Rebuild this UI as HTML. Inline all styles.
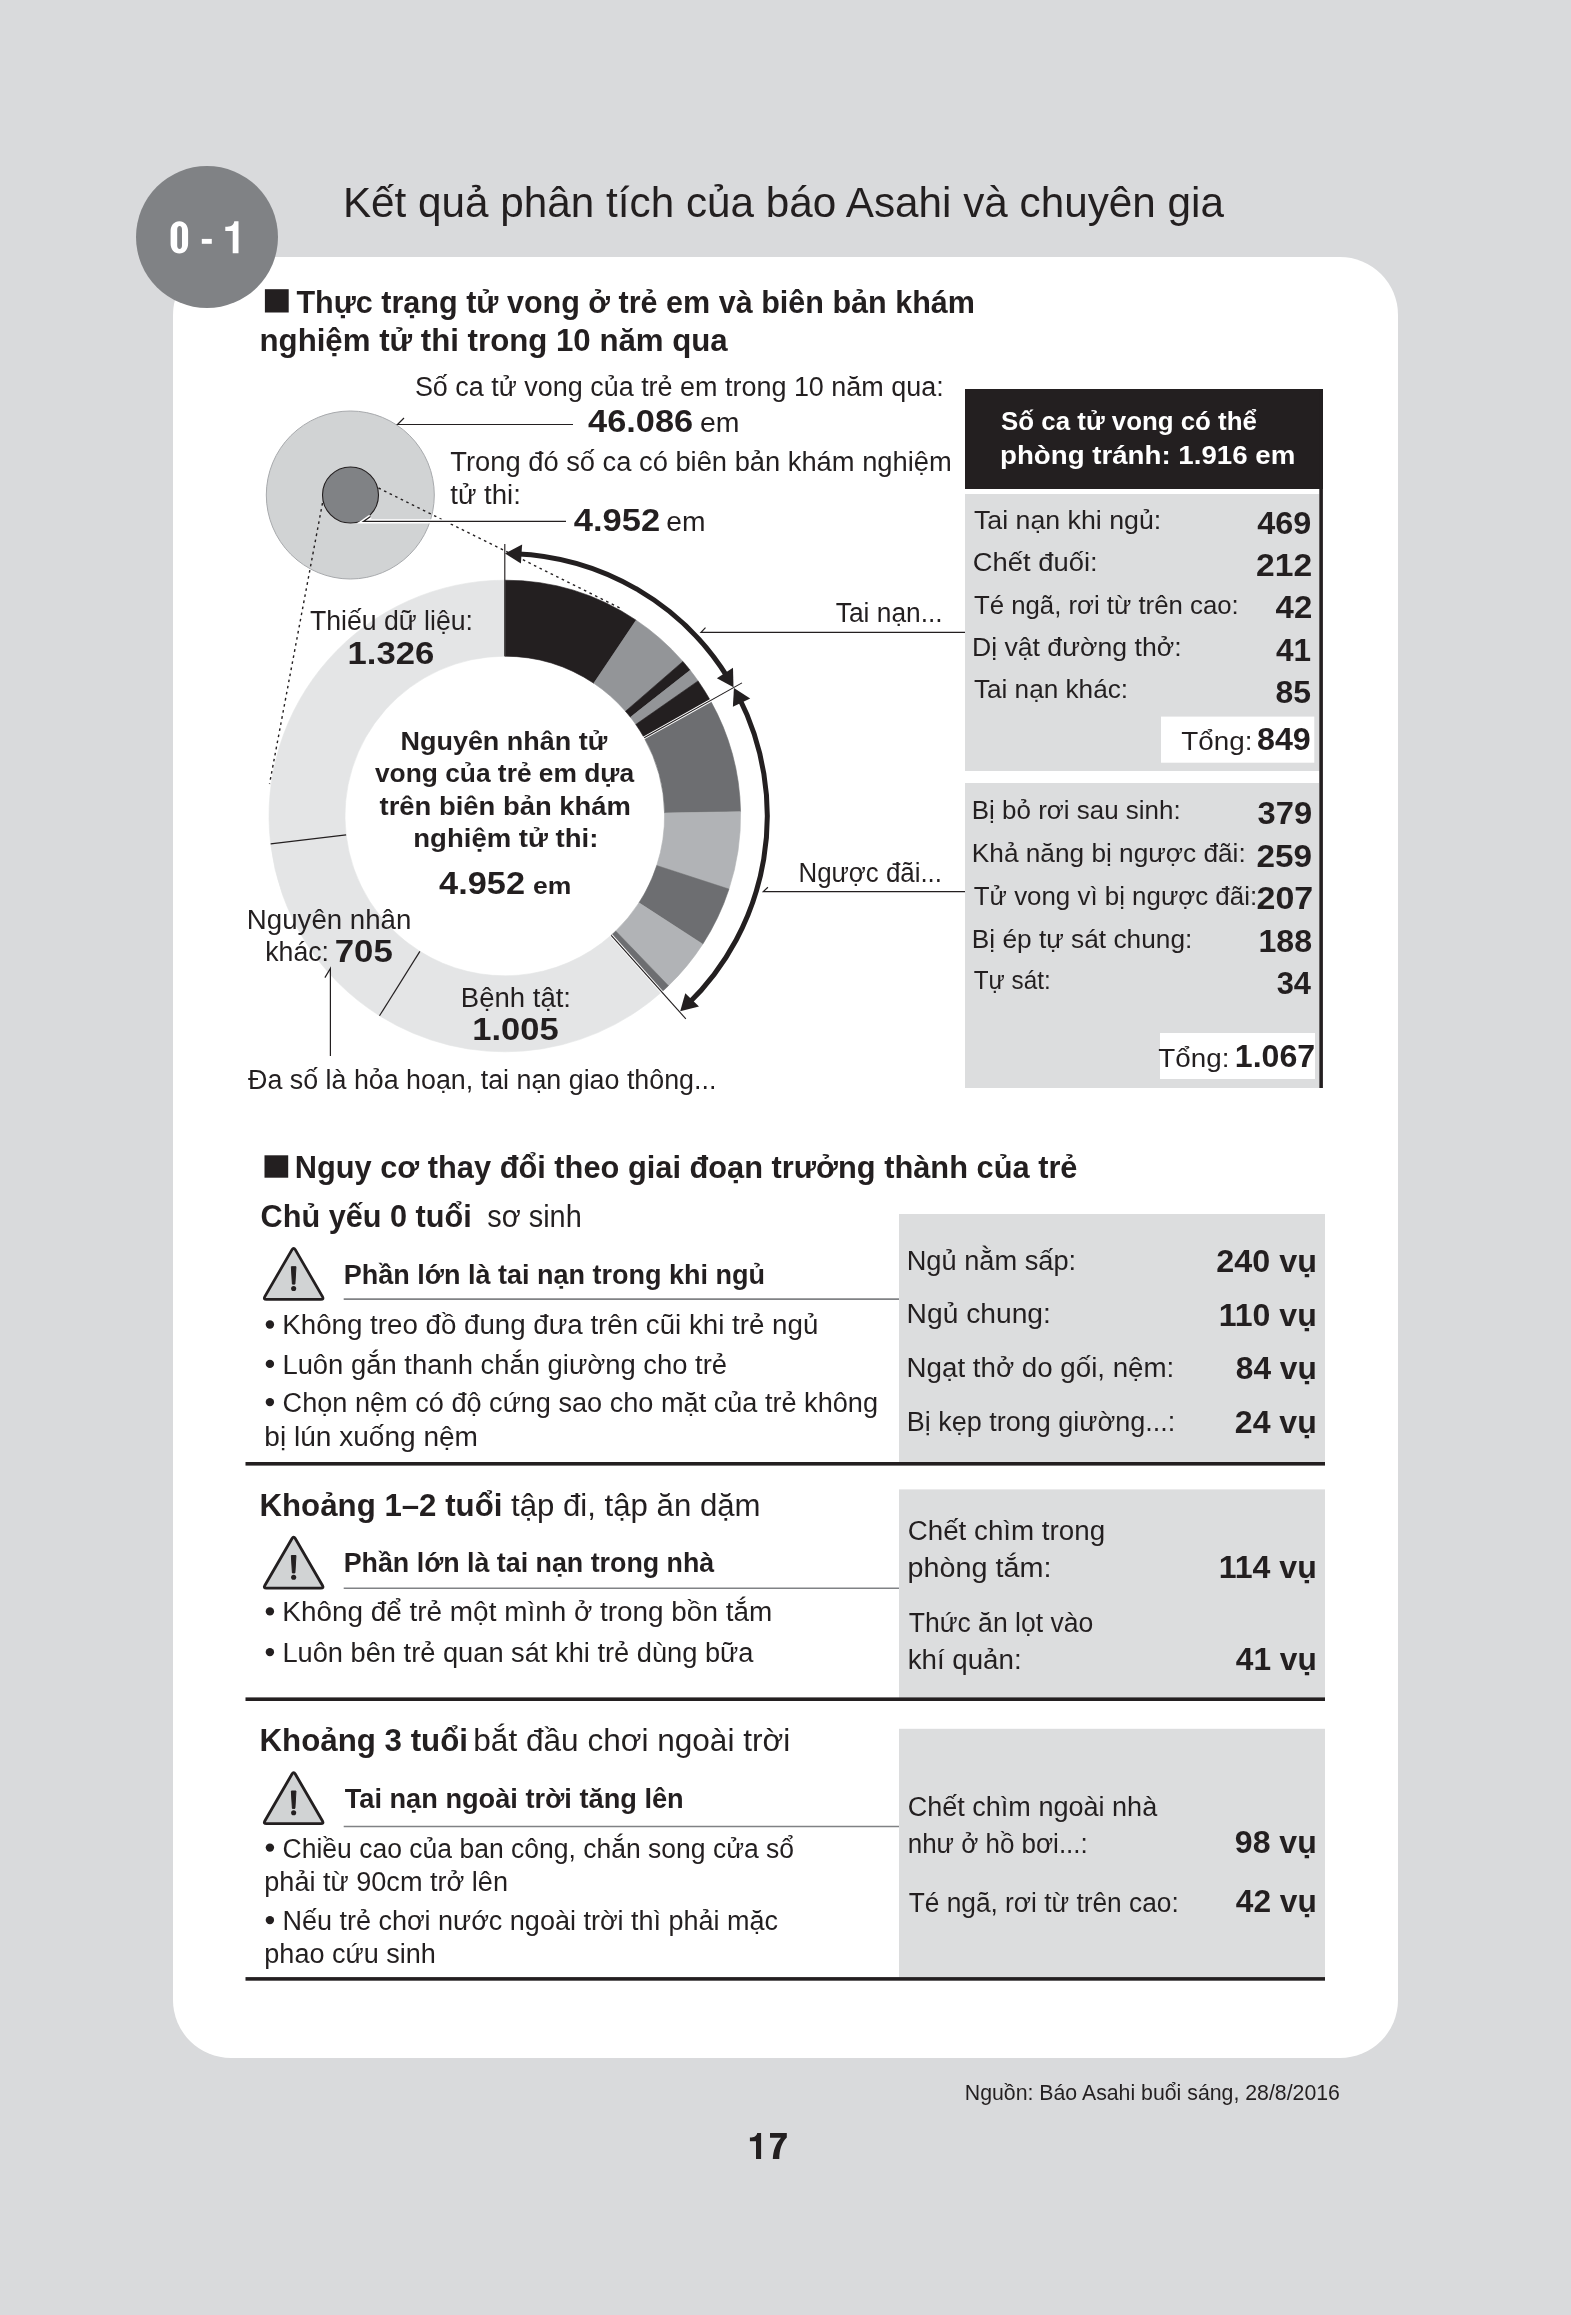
<!DOCTYPE html>
<html lang="vi"><head><meta charset="utf-8"><title>Kết quả phân tích của báo Asahi và chuyên gia</title>
<style>
html,body{margin:0;padding:0;background:#d9dadc;}
body{width:1571px;height:2315px;overflow:hidden;position:relative;font-family:"Liberation Sans",sans-serif;}
.card{position:absolute;left:172.7px;top:256.5px;width:1225.3px;height:1801.7px;background:#fff;border-radius:58px;}
.badge{position:absolute;left:135.6px;top:166.4px;width:142px;height:142px;border-radius:50%;background:#808285;}
svg{position:absolute;left:0;top:0;will-change:transform;}
svg text{font-family:"Liberation Sans",sans-serif;}
</style></head>
<body>
<div class="card"></div>
<div class="badge"></div>
<svg width="1571" height="2315" viewBox="0 0 1571 2315">

<rect x="965" y="389" width="358" height="100" fill="#231f20"/>
<rect x="965" y="494" width="354.5" height="277" fill="#dcddde"/>
<rect x="1161" y="716.6" width="153.3" height="46.1" fill="#ffffff"/>
<rect x="965" y="783" width="354" height="305" fill="#dcddde"/>
<rect x="1160" y="1033" width="155" height="46" fill="#ffffff"/>
<rect x="1319.3" y="389" width="3.6" height="699" fill="#231f20"/>
<rect x="264.9" y="289.2" width="23.8" height="23.3" fill="#231f20"/>
<rect x="264.5" y="1155.3" width="23.7" height="22.4" fill="#231f20"/>
<rect x="899" y="1214" width="426" height="248" fill="#dcddde"/>
<rect x="899" y="1489.4" width="426" height="208.5" fill="#dcddde"/>
<rect x="899" y="1728.8" width="426" height="248.5" fill="#dcddde"/>
<rect x="245.5" y="1462" width="1079.5" height="3.6" fill="#231f20"/>
<rect x="245.5" y="1697.4" width="1079.5" height="3.6" fill="#231f20"/>
<rect x="245.5" y="1977.1" width="1079.5" height="3.6" fill="#231f20"/>
<line x1="343.7" y1="1299.1" x2="899" y2="1299.1" stroke="#808285" stroke-width="1.6"/>
<line x1="343.7" y1="1588.2" x2="899" y2="1588.2" stroke="#808285" stroke-width="1.6"/>
<line x1="343.7" y1="1826.5" x2="899" y2="1826.5" stroke="#808285" stroke-width="1.6"/>
<path d="M295.26,1249.67 L322.49,1296.63 Q324.10,1299.40 320.90,1299.40 L266.40,1299.40 Q263.20,1299.40 264.81,1296.63 L292.04,1249.67 Q293.65,1246.90 295.26,1249.67 Z" fill="#d1d3d4" stroke="#231f20" stroke-width="2.8" stroke-linejoin="round"/><path d="M291.35,1266.70 L295.95,1266.70 L294.90,1284.10 L292.40,1284.10 Z" fill="#231f20" stroke="#231f20" stroke-width="1" stroke-linejoin="round"/><circle cx="293.65" cy="1288.50" r="2.55" fill="#231f20"/>
<path d="M295.26,1538.47 L322.49,1585.43 Q324.10,1588.20 320.90,1588.20 L266.40,1588.20 Q263.20,1588.20 264.81,1585.43 L292.04,1538.47 Q293.65,1535.70 295.26,1538.47 Z" fill="#d1d3d4" stroke="#231f20" stroke-width="2.8" stroke-linejoin="round"/><path d="M291.35,1555.50 L295.95,1555.50 L294.90,1572.90 L292.40,1572.90 Z" fill="#231f20" stroke="#231f20" stroke-width="1" stroke-linejoin="round"/><circle cx="293.65" cy="1577.30" r="2.55" fill="#231f20"/>
<path d="M295.26,1773.97 L322.49,1820.93 Q324.10,1823.70 320.90,1823.70 L266.40,1823.70 Q263.20,1823.70 264.81,1820.93 L292.04,1773.97 Q293.65,1771.20 295.26,1773.97 Z" fill="#d1d3d4" stroke="#231f20" stroke-width="2.8" stroke-linejoin="round"/><path d="M291.35,1791.00 L295.95,1791.00 L294.90,1808.40 L292.40,1808.40 Z" fill="#231f20" stroke="#231f20" stroke-width="1" stroke-linejoin="round"/><circle cx="293.65" cy="1812.80" r="2.55" fill="#231f20"/>

<path d="M504.80,580.20 A235.8,235.8 0 0 1 636.15,620.17 L593.81,683.29 A159.8,159.8 0 0 0 504.80,656.20 Z" fill="#231f20" stroke="#231f20" stroke-width="0.6"/>
<path d="M636.15,620.17 A235.8,235.8 0 0 1 682.90,661.46 L625.49,711.27 A159.8,159.8 0 0 0 593.81,683.29 Z" fill="#939598" stroke="#939598" stroke-width="0.6"/>
<path d="M682.90,661.46 A235.8,235.8 0 0 1 690.18,670.28 L630.43,717.24 A159.8,159.8 0 0 0 625.49,711.27 Z" fill="#231f20" stroke="#231f20" stroke-width="0.6"/>
<path d="M690.18,670.28 A235.8,235.8 0 0 1 698.07,680.92 L635.78,724.46 A159.8,159.8 0 0 0 630.43,717.24 Z" fill="#939598" stroke="#939598" stroke-width="0.6"/>
<path d="M698.07,680.92 A235.8,235.8 0 0 1 710.43,700.60 L644.16,737.80 A159.8,159.8 0 0 0 635.78,724.46 Z" fill="#231f20" stroke="#231f20" stroke-width="0.6"/>
<path d="M710.43,700.60 A235.8,235.8 0 0 1 740.56,811.68 L664.57,813.07 A159.8,159.8 0 0 0 644.16,737.80 Z" fill="#6d6e71" stroke="#6d6e71" stroke-width="0.6"/>
<path d="M740.56,811.68 A235.8,235.8 0 0 1 728.98,889.10 L656.73,865.54 A159.8,159.8 0 0 0 664.57,813.07 Z" fill="#b1b3b6" stroke="#b1b3b6" stroke-width="0.6"/>
<path d="M728.98,889.10 A235.8,235.8 0 0 1 702.74,944.15 L638.94,902.85 A159.8,159.8 0 0 0 656.73,865.54 Z" fill="#6d6e71" stroke="#6d6e71" stroke-width="0.6"/>
<path d="M702.74,944.15 A235.8,235.8 0 0 1 668.48,985.73 L615.73,931.03 A159.8,159.8 0 0 0 638.94,902.85 Z" fill="#b1b3b6" stroke="#b1b3b6" stroke-width="0.6"/>
<path d="M668.48,985.73 A235.8,235.8 0 0 1 661.75,991.98 L611.17,935.26 A159.8,159.8 0 0 0 615.73,931.03 Z" fill="#6d6e71" stroke="#6d6e71" stroke-width="0.6"/>
<path d="M661.75,991.98 A235.8,235.8 0 0 1 379.50,1015.75 L419.88,951.37 A159.8,159.8 0 0 0 611.17,935.26 Z" fill="#e4e5e6" stroke="#e4e5e6" stroke-width="0.6"/>
<path d="M379.50,1015.75 A235.8,235.8 0 0 1 270.66,843.92 L346.12,834.92 A159.8,159.8 0 0 0 419.88,951.37 Z" fill="#e4e5e6" stroke="#e4e5e6" stroke-width="0.6"/>
<path d="M270.66,843.92 A235.8,235.8 0 0 1 504.80,580.20 L504.80,656.20 A159.8,159.8 0 0 0 346.12,834.92 Z" fill="#e4e5e6" stroke="#e4e5e6" stroke-width="0.6"/>
<line x1="643.28" y1="738.29" x2="711.31" y2="700.11" stroke="#ffffff" stroke-width="3.0"/>
<line x1="644.16" y1="737.80" x2="742.00" y2="682.89" stroke="#231f20" stroke-width="1.1"/>
<line x1="504.80" y1="656.20" x2="504.80" y2="544.00" stroke="#231f20" stroke-width="1.15"/>
<line x1="611.17" y1="935.26" x2="662.42" y2="992.72" stroke="#ffffff" stroke-width="3"/>
<line x1="611.17" y1="935.26" x2="685.85" y2="1018.99" stroke="#231f20" stroke-width="1.1"/>
<line x1="419.88" y1="951.37" x2="379.50" y2="1015.75" stroke="#231f20" stroke-width="1.2"/>
<line x1="346.12" y1="834.92" x2="270.66" y2="843.92" stroke="#231f20" stroke-width="1.2"/>
<path d="M514.65,553.69 A262.5,262.5 0 0 1 728.61,678.84" fill="none" stroke="#231f20" stroke-width="5"/>
<path d="M505.03,553.50 L522.13,544.45 L520.91,563.61 Z" fill="#231f20"/>
<path d="M733.49,687.14 L733.00,667.80 L716.90,678.26 Z" fill="#231f20"/>
<path d="M738.48,696.43 A262.5,262.5 0 0 1 687.25,1004.73" fill="none" stroke="#231f20" stroke-width="5"/>
<path d="M733.94,687.94 L750.19,698.44 L732.88,706.73 Z" fill="#231f20"/>
<path d="M680.21,1011.29 L698.98,1006.61 L685.28,993.16 Z" fill="#231f20"/>

<!-- big circles -->
<circle cx="350.3" cy="495" r="84" fill="#d1d3d4" stroke="#a7a9ac" stroke-width="1"/>
<circle cx="350.5" cy="495" r="28" fill="#808285" stroke="#231f20" stroke-width="1.1"/>
<line x1="378.5" y1="488" x2="622" y2="609" stroke="#231f20" stroke-width="1.4" stroke-dasharray="2.6,3.6"/>
<line x1="322.5" y1="503" x2="269.5" y2="784" stroke="#231f20" stroke-width="1.4" stroke-dasharray="2.6,3.6"/>
<!-- leaders -->
<path d="M404,418 L397.5,424.5 L573,424.5" fill="none" stroke="#231f20" stroke-width="1.2"/>
<path d="M370.5,516.6 L363.5,521.4 L566,521.4" fill="none" stroke="#ffffff" stroke-width="4.2"/>
<path d="M370.5,516.6 L363.5,521.4 L566,521.4" fill="none" stroke="#231f20" stroke-width="1.2"/>
<path d="M705.5,627.7 L701,632.4 L965,632.4" fill="none" stroke="#231f20" stroke-width="1.2"/>
<path d="M767.9,887.3 L763.3,891.6 L965,891.6" fill="none" stroke="#231f20" stroke-width="1.2"/>
<path d="M324.9,977.6 L330.4,968.4 L330.4,1056" fill="none" stroke="#231f20" stroke-width="1.2"/>

<text x="342.9" y="216.5" font-size="42" fill="#231f20" textLength="881.1" lengthAdjust="spacingAndGlyphs">Kết quả phân tích của báo Asahi và chuyên gia</text>
<text x="296.4" y="312.5" font-size="32" font-weight="bold" fill="#231f20" textLength="678.6" lengthAdjust="spacingAndGlyphs">Thực trạng tử vong ở trẻ em và biên bản khám</text>
<text x="259.5" y="350.6" font-size="32" font-weight="bold" fill="#231f20" textLength="468.2" lengthAdjust="spacingAndGlyphs">nghiệm tử thi trong 10 năm qua</text>
<text x="414.9" y="396.3" font-size="27" fill="#231f20" textLength="528.8" lengthAdjust="spacingAndGlyphs">Số ca tử vong của trẻ em trong 10 năm qua:</text>
<text x="588.1" y="431.6" font-size="31" font-weight="bold" fill="#231f20" textLength="105.0" lengthAdjust="spacingAndGlyphs">46.086</text>
<text x="699.9" y="431.6" font-size="27" fill="#231f20" textLength="39.5" lengthAdjust="spacingAndGlyphs">em</text>
<text x="450.3" y="470.6" font-size="27" fill="#231f20" textLength="501.4" lengthAdjust="spacingAndGlyphs">Trong đó số ca có biên bản khám nghiệm</text>
<text x="450.3" y="504.2" font-size="27" fill="#231f20" textLength="70.6" lengthAdjust="spacingAndGlyphs">tử thi:</text>
<text x="573.8" y="530.9" font-size="31" font-weight="bold" fill="#231f20" textLength="86.4" lengthAdjust="spacingAndGlyphs">4.952</text>
<text x="666.3" y="530.9" font-size="27" fill="#231f20" textLength="39.2" lengthAdjust="spacingAndGlyphs">em</text>
<text x="310.0" y="629.5" font-size="27" fill="#231f20" textLength="163.0" lengthAdjust="spacingAndGlyphs">Thiếu dữ liệu:</text>
<text x="347.6" y="663.7" font-size="32" font-weight="bold" fill="#231f20" textLength="86.7" lengthAdjust="spacingAndGlyphs">1.326</text>
<text x="835.8" y="622.1" font-size="27" fill="#231f20" textLength="106.8" lengthAdjust="spacingAndGlyphs">Tai nạn...</text>
<text x="400.5" y="749.6" font-size="25" font-weight="bold" fill="#231f20" textLength="206.7" lengthAdjust="spacingAndGlyphs">Nguyên nhân tử</text>
<text x="374.9" y="782.1" font-size="25" font-weight="bold" fill="#231f20" textLength="259.2" lengthAdjust="spacingAndGlyphs">vong của trẻ em dựa</text>
<text x="379.5" y="814.5" font-size="25" font-weight="bold" fill="#231f20" textLength="251.4" lengthAdjust="spacingAndGlyphs">trên biên bản khám</text>
<text x="413.3" y="847.0" font-size="25" font-weight="bold" fill="#231f20" textLength="185.1" lengthAdjust="spacingAndGlyphs">nghiệm tử thi:</text>
<text x="439.1" y="894.4" font-size="32" font-weight="bold" fill="#231f20" textLength="85.9" lengthAdjust="spacingAndGlyphs">4.952</text>
<text x="533.1" y="894.4" font-size="24" font-weight="bold" fill="#231f20" textLength="38.3" lengthAdjust="spacingAndGlyphs">em</text>
<text x="798.5" y="881.5" font-size="27" fill="#231f20" textLength="143.5" lengthAdjust="spacingAndGlyphs">Ngược đãi...</text>
<text x="246.8" y="928.7" font-size="27" fill="#231f20" textLength="164.6" lengthAdjust="spacingAndGlyphs">Nguyên nhân</text>
<text x="265.3" y="961.3" font-size="27" fill="#231f20" textLength="63.7" lengthAdjust="spacingAndGlyphs">khác:</text>
<text x="334.7" y="961.9" font-size="32" font-weight="bold" fill="#231f20" textLength="58.1" lengthAdjust="spacingAndGlyphs">705</text>
<text x="460.8" y="1006.6" font-size="27" fill="#231f20" textLength="110.2" lengthAdjust="spacingAndGlyphs">Bệnh tật:</text>
<text x="472.3" y="1039.9" font-size="32" font-weight="bold" fill="#231f20" textLength="86.4" lengthAdjust="spacingAndGlyphs">1.005</text>
<text x="248.0" y="1089.4" font-size="27" fill="#231f20" textLength="468.4" lengthAdjust="spacingAndGlyphs">Đa số là hỏa hoạn, tai nạn giao thông...</text>
<text x="1001.1" y="429.6" font-size="25" font-weight="bold" fill="#ffffff" textLength="255.8" lengthAdjust="spacingAndGlyphs">Số ca tử vong có thể</text>
<text x="1000.0" y="464.0" font-size="25" font-weight="bold" fill="#ffffff" textLength="295.3" lengthAdjust="spacingAndGlyphs">phòng tránh: 1.916 em</text>
<text x="973.9" y="528.9" font-size="26" fill="#231f20" textLength="187.4" lengthAdjust="spacingAndGlyphs">Tai nạn khi ngủ:</text>
<text x="1257.2" y="533.5" font-size="31" font-weight="bold" fill="#231f20" textLength="54.0" lengthAdjust="spacingAndGlyphs">469</text>
<text x="972.8" y="571.3" font-size="26" fill="#231f20" textLength="124.8" lengthAdjust="spacingAndGlyphs">Chết đuối:</text>
<text x="1256.1" y="575.9" font-size="31" font-weight="bold" fill="#231f20" textLength="56.1" lengthAdjust="spacingAndGlyphs">212</text>
<text x="973.9" y="613.7" font-size="26" fill="#231f20" textLength="264.9" lengthAdjust="spacingAndGlyphs">Té ngã, rơi từ trên cao:</text>
<text x="1275.6" y="618.3" font-size="31" font-weight="bold" fill="#231f20" textLength="36.6" lengthAdjust="spacingAndGlyphs">42</text>
<text x="971.9" y="656.3" font-size="26" fill="#231f20" textLength="209.7" lengthAdjust="spacingAndGlyphs">Dị vật đường thở:</text>
<text x="1276.0" y="660.9" font-size="31" font-weight="bold" fill="#231f20" textLength="35.1" lengthAdjust="spacingAndGlyphs">41</text>
<text x="973.9" y="698.3" font-size="26" fill="#231f20" textLength="154.2" lengthAdjust="spacingAndGlyphs">Tai nạn khác:</text>
<text x="1275.6" y="702.9" font-size="31" font-weight="bold" fill="#231f20" textLength="35.5" lengthAdjust="spacingAndGlyphs">85</text>
<text x="1181.3" y="749.8" font-size="26" fill="#231f20" textLength="71.2" lengthAdjust="spacingAndGlyphs">Tổng:</text>
<text x="1257.0" y="749.8" font-size="31" font-weight="bold" fill="#231f20" textLength="53.8" lengthAdjust="spacingAndGlyphs">849</text>
<text x="971.8" y="819.2" font-size="26" fill="#231f20" textLength="208.9" lengthAdjust="spacingAndGlyphs">Bị bỏ rơi sau sinh:</text>
<text x="1257.6" y="823.5" font-size="31" font-weight="bold" fill="#231f20" textLength="54.5" lengthAdjust="spacingAndGlyphs">379</text>
<text x="971.8" y="862.4" font-size="26" fill="#231f20" textLength="273.9" lengthAdjust="spacingAndGlyphs">Khả năng bị ngược đãi:</text>
<text x="1256.5" y="866.7" font-size="31" font-weight="bold" fill="#231f20" textLength="55.5" lengthAdjust="spacingAndGlyphs">259</text>
<text x="973.8" y="905.1" font-size="26" fill="#231f20" textLength="283.3" lengthAdjust="spacingAndGlyphs">Tử vong vì bị ngược đãi:</text>
<text x="1256.5" y="909.4" font-size="31" font-weight="bold" fill="#231f20" textLength="56.7" lengthAdjust="spacingAndGlyphs">207</text>
<text x="971.8" y="947.9" font-size="26" fill="#231f20" textLength="220.5" lengthAdjust="spacingAndGlyphs">Bị ép tự sát chung:</text>
<text x="1258.5" y="952.2" font-size="31" font-weight="bold" fill="#231f20" textLength="53.6" lengthAdjust="spacingAndGlyphs">188</text>
<text x="973.8" y="989.2" font-size="26" fill="#231f20" textLength="76.9" lengthAdjust="spacingAndGlyphs">Tự sát:</text>
<text x="1276.7" y="993.5" font-size="31" font-weight="bold" fill="#231f20" textLength="34.3" lengthAdjust="spacingAndGlyphs">34</text>
<text x="1158.3" y="1066.8" font-size="26" fill="#231f20" textLength="71.1" lengthAdjust="spacingAndGlyphs">Tổng:</text>
<text x="1234.8" y="1067.0" font-size="31" font-weight="bold" fill="#231f20" textLength="80.4" lengthAdjust="spacingAndGlyphs">1.067</text>
<text x="294.7" y="1177.6" font-size="32" font-weight="bold" fill="#231f20" textLength="782.8" lengthAdjust="spacingAndGlyphs">Nguy cơ thay đổi theo giai đoạn trưởng thành của trẻ</text>
<text x="260.5" y="1227.1" font-size="31" font-weight="bold" fill="#231f20" textLength="211.3" lengthAdjust="spacingAndGlyphs">Chủ yếu 0 tuổi</text>
<text x="487.3" y="1227.1" font-size="31" fill="#231f20" textLength="94.4" lengthAdjust="spacingAndGlyphs">sơ sinh</text>
<text x="343.7" y="1283.9" font-size="27" font-weight="bold" fill="#231f20" textLength="421.2" lengthAdjust="spacingAndGlyphs">Phần lớn là tai nạn trong khi ngủ</text>
<text x="282.3" y="1334.4" font-size="27" fill="#231f20" textLength="536.0" lengthAdjust="spacingAndGlyphs">Không treo đồ đung đưa trên cũi khi trẻ ngủ</text>
<text x="282.4" y="1373.8" font-size="27" fill="#231f20" textLength="444.7" lengthAdjust="spacingAndGlyphs">Luôn gắn thanh chắn giường cho trẻ</text>
<text x="282.6" y="1412.0" font-size="27" fill="#231f20" textLength="595.4" lengthAdjust="spacingAndGlyphs">Chọn nệm có độ cứng sao cho mặt của trẻ không</text>
<text x="264.3" y="1446.4" font-size="27" fill="#231f20" textLength="213.7" lengthAdjust="spacingAndGlyphs">bị lún xuống nệm</text>
<text x="906.7" y="1269.6" font-size="27" fill="#231f20" textLength="169.5" lengthAdjust="spacingAndGlyphs">Ngủ nằm sấp:</text>
<text x="1216.3" y="1272.1" font-size="31" font-weight="bold" fill="#231f20" textLength="100.6" lengthAdjust="spacingAndGlyphs">240 vụ</text>
<text x="906.6" y="1323.0" font-size="27" fill="#231f20" textLength="144.3" lengthAdjust="spacingAndGlyphs">Ngủ chung:</text>
<text x="1218.7" y="1325.5" font-size="31" font-weight="bold" fill="#231f20" textLength="98.1" lengthAdjust="spacingAndGlyphs">110 vụ</text>
<text x="906.6" y="1376.8" font-size="27" fill="#231f20" textLength="267.7" lengthAdjust="spacingAndGlyphs">Ngạt thở do gối, nệm:</text>
<text x="1235.8" y="1379.3" font-size="31" font-weight="bold" fill="#231f20" textLength="81.0" lengthAdjust="spacingAndGlyphs">84 vụ</text>
<text x="906.7" y="1430.7" font-size="27" fill="#231f20" textLength="268.5" lengthAdjust="spacingAndGlyphs">Bị kẹp trong giường...:</text>
<text x="1234.8" y="1433.2" font-size="31" font-weight="bold" fill="#231f20" textLength="82.0" lengthAdjust="spacingAndGlyphs">24 vụ</text>
<text x="259.5" y="1516.2" font-size="31" font-weight="bold" fill="#231f20" textLength="242.9" lengthAdjust="spacingAndGlyphs">Khoảng 1–2 tuổi</text>
<text x="511.0" y="1516.2" font-size="31" fill="#231f20" textLength="249.6" lengthAdjust="spacingAndGlyphs">tập đi, tập ăn dặm</text>
<text x="343.7" y="1572.2" font-size="27" font-weight="bold" fill="#231f20" textLength="370.6" lengthAdjust="spacingAndGlyphs">Phần lớn là tai nạn trong nhà</text>
<text x="282.3" y="1621.3" font-size="27" fill="#231f20" textLength="489.9" lengthAdjust="spacingAndGlyphs">Không để trẻ một mình ở trong bồn tắm</text>
<text x="282.4" y="1662.0" font-size="27" fill="#231f20" textLength="471.1" lengthAdjust="spacingAndGlyphs">Luôn bên trẻ quan sát khi trẻ dùng bữa</text>
<text x="907.7" y="1540.0" font-size="27" fill="#231f20" textLength="197.4" lengthAdjust="spacingAndGlyphs">Chết chìm trong</text>
<text x="907.6" y="1576.6" font-size="27" fill="#231f20" textLength="143.8" lengthAdjust="spacingAndGlyphs">phòng tắm:</text>
<text x="1218.7" y="1577.5" font-size="31" font-weight="bold" fill="#231f20" textLength="98.1" lengthAdjust="spacingAndGlyphs">114 vụ</text>
<text x="908.7" y="1631.7" font-size="27" fill="#231f20" textLength="184.6" lengthAdjust="spacingAndGlyphs">Thức ăn lọt vào</text>
<text x="907.7" y="1668.9" font-size="27" fill="#231f20" textLength="113.9" lengthAdjust="spacingAndGlyphs">khí quản:</text>
<text x="1235.8" y="1669.6" font-size="31" font-weight="bold" fill="#231f20" textLength="81.0" lengthAdjust="spacingAndGlyphs">41 vụ</text>
<text x="259.5" y="1751.1" font-size="31" font-weight="bold" fill="#231f20" textLength="208.5" lengthAdjust="spacingAndGlyphs">Khoảng 3 tuổi</text>
<text x="473.3" y="1751.1" font-size="31" fill="#231f20" textLength="316.9" lengthAdjust="spacingAndGlyphs">bắt đầu chơi ngoài trời</text>
<text x="344.7" y="1807.8" font-size="27" font-weight="bold" fill="#231f20" textLength="339.0" lengthAdjust="spacingAndGlyphs">Tai nạn ngoài trời tăng lên</text>
<text x="282.6" y="1857.5" font-size="27" fill="#231f20" textLength="511.5" lengthAdjust="spacingAndGlyphs">Chiều cao của ban công, chắn song cửa sổ</text>
<text x="264.3" y="1891.1" font-size="27" fill="#231f20" textLength="243.7" lengthAdjust="spacingAndGlyphs">phải từ 90cm trở lên</text>
<text x="282.4" y="1930.0" font-size="27" fill="#231f20" textLength="495.7" lengthAdjust="spacingAndGlyphs">Nếu trẻ chơi nước ngoài trời thì phải mặc</text>
<text x="264.3" y="1963.2" font-size="27" fill="#231f20" textLength="171.6" lengthAdjust="spacingAndGlyphs">phao cứu sinh</text>
<text x="907.7" y="1815.7" font-size="27" fill="#231f20" textLength="249.5" lengthAdjust="spacingAndGlyphs">Chết chìm ngoài nhà</text>
<text x="907.7" y="1852.6" font-size="27" fill="#231f20" textLength="180.1" lengthAdjust="spacingAndGlyphs">như ở hồ bơi...:</text>
<text x="1234.8" y="1852.8" font-size="31" font-weight="bold" fill="#231f20" textLength="82.0" lengthAdjust="spacingAndGlyphs">98 vụ</text>
<text x="908.7" y="1911.8" font-size="27" fill="#231f20" textLength="270.0" lengthAdjust="spacingAndGlyphs">Té ngã, rơi từ trên cao:</text>
<text x="1235.8" y="1911.9" font-size="31" font-weight="bold" fill="#231f20" textLength="81.0" lengthAdjust="spacingAndGlyphs">42 vụ</text>
<text x="964.8" y="2100.0" font-size="22" fill="#231f20" textLength="375.1" lengthAdjust="spacingAndGlyphs">Nguồn: Báo Asahi buổi sáng, 28/8/2016</text>

<circle cx="269.9" cy="1324.5" r="4.2" fill="#231f20"/><circle cx="269.9" cy="1363.9" r="4.2" fill="#231f20"/><circle cx="269.9" cy="1402.1" r="4.2" fill="#231f20"/><circle cx="269.9" cy="1611.4" r="4.2" fill="#231f20"/><circle cx="269.9" cy="1652.1" r="4.2" fill="#231f20"/><circle cx="269.9" cy="1847.6" r="4.2" fill="#231f20"/><circle cx="269.9" cy="1920.1" r="4.2" fill="#231f20"/>
<path d="M179.35,221.2 C184.6,221.2 188.1,225.5 188.1,231 L188.1,243.7 C188.1,249.2 184.6,253.5 179.35,253.5 C174.1,253.5 170.6,249.2 170.6,243.7 L170.6,231 C170.6,225.5 174.1,221.2 179.35,221.2 Z M179.6,226 C178.1,226 177.2,227.3 177.2,229.5 L177.2,245.5 C177.2,247.7 178.1,249 179.6,249 C181.1,249 182,247.7 182,245.5 L182,229.5 C182,227.3 181.1,226 179.6,226 Z" fill="#ffffff" fill-rule="evenodd"/>
<rect x="201.8" y="238.9" width="10" height="4.9" fill="#ffffff"/>
<path d="M232.7,253.2 L238.5,253.2 L238.5,221.2 L234.3,221.2 C233.6,225.6 230.6,226.7 225.3,226.8 L225.3,230.9 L232.7,230.9 Z" fill="#ffffff"/>
<path d="M756,2159 L761.1,2159 L761.1,2132.9 L757.2,2132.9 C756.6,2136.2 754.2,2137.3 749.9,2137.4 L749.9,2141.2 L756,2141.2 Z" fill="#231f20"/>
<path d="M770,2132.9 L786.8,2132.9 L786.8,2137.6 C781.5,2143 779.4,2150 779.3,2159 L772.8,2159 C773.2,2150.5 775.8,2143.5 781,2137.7 L770,2137.7 Z" fill="#231f20"/>

</svg>
</body></html>
